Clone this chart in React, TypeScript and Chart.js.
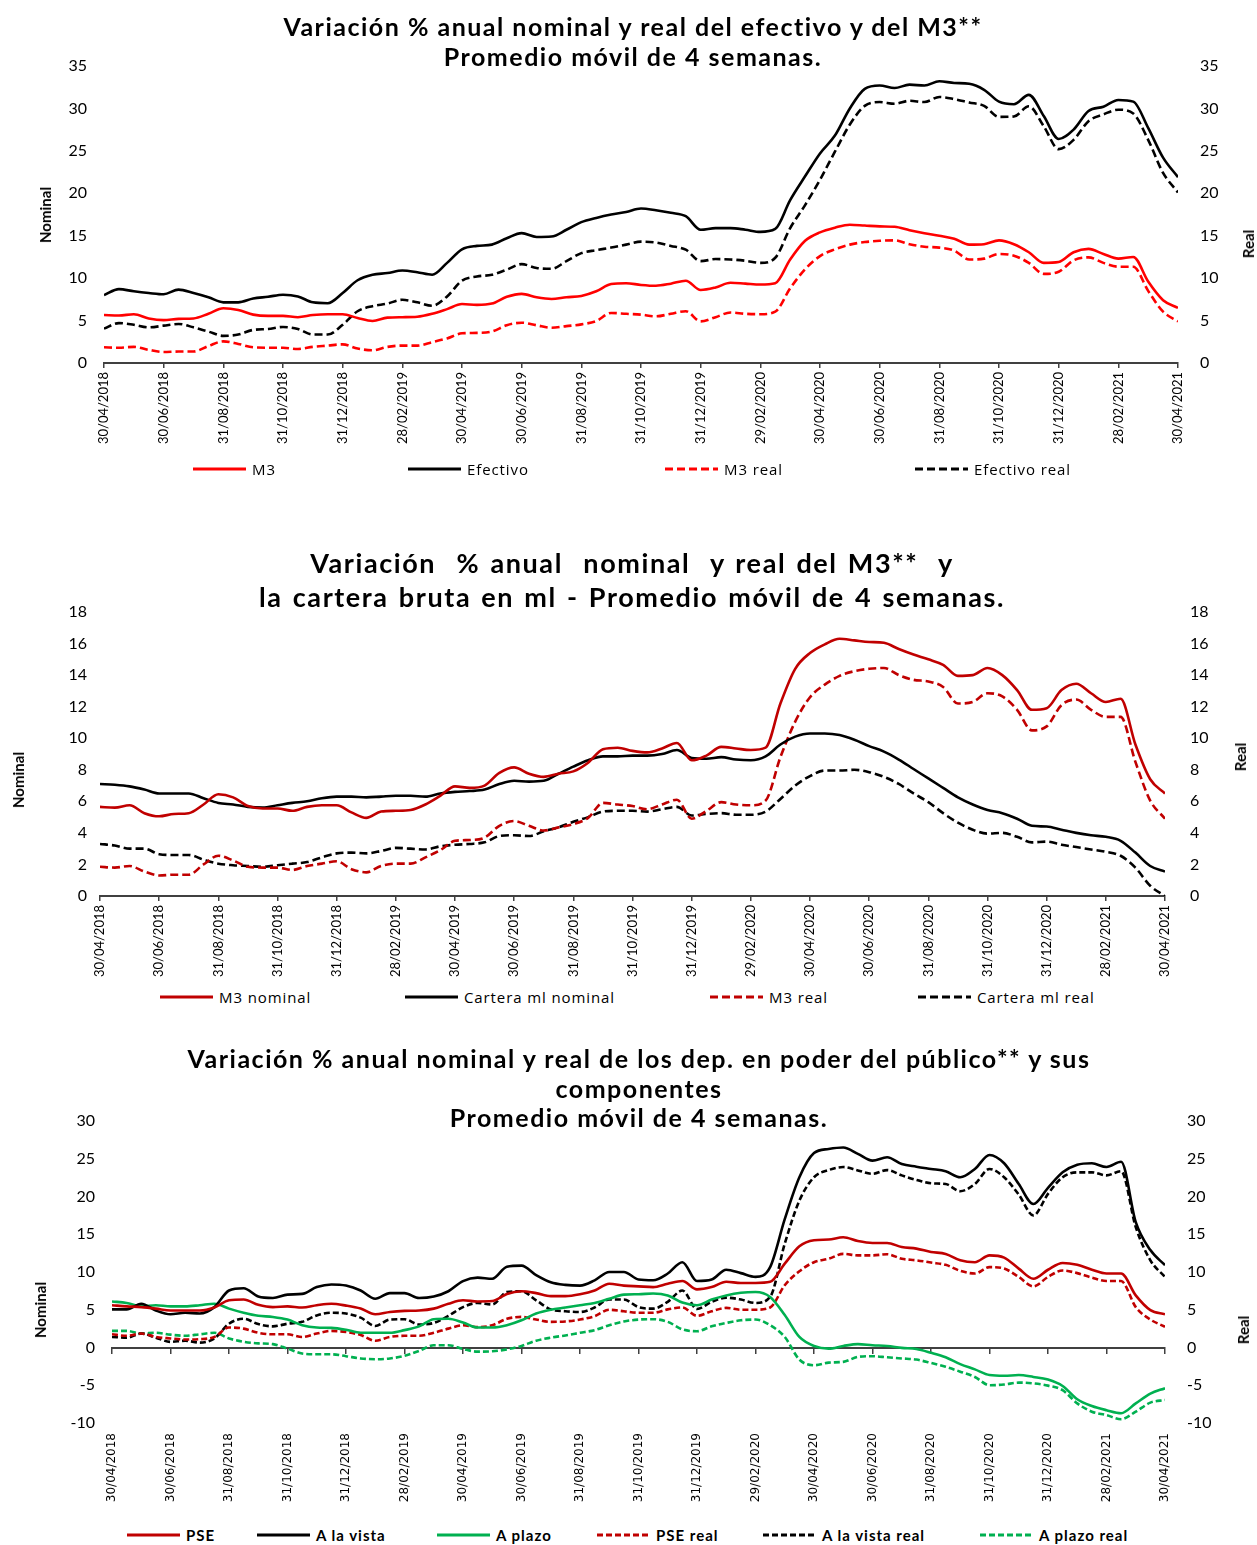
import React, { useEffect, useRef } from "react";
import { Chart, registerables } from "chart.js";

Chart.register(...registerables);
Chart.defaults.font.family = "Lato";

// ---------- data (semi-monthly points, 30/04/2018 .. 30/04/2021) ----------
const xTickLabels = [
  "30/04/2018", "30/06/2018", "31/08/2018", "31/10/2018", "31/12/2018",
  "28/02/2019", "30/04/2019", "30/06/2019", "31/08/2019", "31/10/2019",
  "31/12/2019", "29/02/2020", "30/04/2020", "30/06/2020", "31/08/2020",
  "31/10/2020", "31/12/2020", "28/02/2021", "30/04/2021",
];

const m3 = [
  5.65, 5.6, 5.75, 5.25, 5.05, 5.2, 5.25, 5.8, 6.45, 6.25,
  5.7, 5.55, 5.55, 5.4, 5.65, 5.75, 5.75, 5.3, 4.95, 5.35,
  5.4, 5.45, 5.8, 6.35, 6.95, 6.85, 7.0, 7.8, 8.15, 7.75,
  7.55, 7.75, 7.9, 8.45, 9.3, 9.4, 9.2, 9.1, 9.35, 9.7,
  8.6, 8.9, 9.45, 9.35, 9.25, 9.4, 12.2, 14.4, 15.4, 15.95,
  16.3, 16.2, 16.1, 16.05, 15.65, 15.3, 15.0, 14.65, 13.95, 14.0,
  14.45, 14.0, 13.05, 11.8, 11.9, 13.05, 13.45, 12.85, 12.3, 12.5,
  9.6, 7.4, 6.5,
];

const m3Real = [
  1.85, 1.8, 1.9, 1.55, 1.3, 1.35, 1.35, 2.0, 2.55, 2.25,
  1.85, 1.8, 1.8, 1.65, 1.9, 2.05, 2.2, 1.7, 1.5, 1.9,
  2.05, 2.05, 2.45, 2.9, 3.5, 3.55, 3.7, 4.45, 4.75, 4.45,
  4.15, 4.35, 4.55, 4.95, 5.9, 5.8, 5.7, 5.5, 5.8, 6.1,
  4.9, 5.4, 5.95, 5.8, 5.75, 6.05, 8.8, 11.05, 12.6, 13.4,
  13.95, 14.25, 14.4, 14.45, 14.0, 13.7, 13.6, 13.25, 12.2, 12.3,
  12.85, 12.65, 11.8, 10.5, 10.75, 12.1, 12.45, 11.8, 11.35, 11.35,
  8.5, 6.05, 4.9,
];

const efectivo = [
  8.0, 8.7, 8.45, 8.25, 8.1, 8.65, 8.25, 7.75, 7.15, 7.15,
  7.6, 7.8, 8.05, 7.85, 7.15, 7.05, 8.25, 9.75, 10.4, 10.6,
  10.9, 10.7, 10.4, 11.8, 13.4, 13.8, 13.95, 14.7, 15.3, 14.85,
  14.9, 15.7, 16.6, 17.1, 17.5, 17.8, 18.2, 18.0, 17.7, 17.3,
  15.7, 15.9, 15.9, 15.7, 15.45, 15.8, 19.2, 22.0, 24.7, 26.8,
  30.0, 32.3, 32.7, 32.4, 32.8, 32.7, 33.2, 33.0, 32.9, 32.2,
  30.8, 30.5, 31.6, 29.1, 26.4, 27.5, 29.7, 30.2, 31.0, 30.8,
  27.7, 24.2, 21.9,
];

const efectivoReal = [
  4.05, 4.7, 4.5, 4.2, 4.4, 4.6, 4.2, 3.7, 3.2, 3.35,
  3.9, 4.0, 4.25, 4.0, 3.35, 3.35, 4.5, 6.1, 6.7, 7.0,
  7.45, 7.15, 6.75, 7.85, 9.7, 10.2, 10.4, 11.0, 11.65, 11.2,
  11.1, 12.0, 12.95, 13.3, 13.6, 13.95, 14.3, 14.2, 13.8, 13.35,
  12.0, 12.25, 12.2, 12.05, 11.8, 12.4, 15.9, 18.6, 21.6, 24.9,
  28.1, 30.3, 30.75, 30.55, 30.9, 30.75, 31.35, 31.1, 30.7, 30.3,
  29.0, 29.05, 30.25, 27.9, 25.2, 26.3, 28.5, 29.3, 29.85, 29.4,
  26.3, 22.4, 20.1,
];

const carteraNominal = [
  7.1, 7.05, 6.95, 6.75, 6.5, 6.5, 6.5, 6.2, 5.9, 5.8,
  5.65, 5.6, 5.75, 5.9, 6.0, 6.2, 6.3, 6.3, 6.25, 6.3,
  6.35, 6.35, 6.3, 6.5, 6.6, 6.65, 6.75, 7.1, 7.3, 7.25,
  7.3, 7.75, 8.2, 8.6, 8.85, 8.85, 8.9, 8.9, 9.0, 9.25,
  8.75, 8.7, 8.8, 8.65, 8.6, 8.85, 9.6, 10.1, 10.3, 10.3,
  10.2, 9.9, 9.5, 9.15, 8.65, 8.05, 7.45, 6.85, 6.25, 5.8,
  5.45, 5.25, 4.9, 4.45, 4.4, 4.2, 4.0, 3.85, 3.75, 3.5,
  2.75, 1.9, 1.55,
];

const carteraReal = [
  3.3, 3.2, 3.0, 3.0, 2.65, 2.6, 2.6, 2.3, 2.05, 1.95,
  1.9, 1.85, 1.95, 2.05, 2.15, 2.45, 2.7, 2.75, 2.7, 2.85,
  3.05, 3.0, 2.95, 3.15, 3.25, 3.3, 3.4, 3.8, 3.85, 3.8,
  4.1, 4.35, 4.7, 5.0, 5.35, 5.4, 5.4, 5.35, 5.5, 5.65,
  5.1, 5.2, 5.25, 5.15, 5.15, 5.35, 6.15, 7.0, 7.6, 7.95,
  7.95, 8.0, 7.85, 7.55, 7.1, 6.5, 5.95, 5.25, 4.65, 4.2,
  3.95, 4.0, 3.75, 3.4, 3.45, 3.25, 3.1, 2.95, 2.8, 2.55,
  1.8, 0.65, 0.0,
];

const pse = [
  5.6, 5.45, 5.35, 5.15, 4.9, 4.9, 4.9, 5.3, 6.25, 6.35,
  5.65, 5.35, 5.45, 5.3, 5.6, 5.8, 5.55, 5.15, 4.4, 4.7,
  4.85, 4.9, 5.15, 5.8, 6.25, 6.1, 6.15, 7.1, 7.45, 7.2,
  6.8, 6.8, 7.05, 7.55, 8.45, 8.2, 8.1, 8.0, 8.45, 8.8,
  7.7, 8.0, 8.7, 8.55, 8.55, 8.7, 11.1, 13.4, 14.2, 14.3,
  14.6, 14.1, 13.85, 13.85, 13.3, 13.1, 12.65, 12.4, 11.55, 11.3,
  12.2, 11.9, 10.45, 9.1, 10.3, 11.2, 10.95, 10.3, 9.8, 9.8,
  6.9, 4.95, 4.4,
];

const pseReal = [
  1.75, 1.55, 1.85, 1.4, 1.2, 1.05, 1.1, 1.4, 2.65, 2.5,
  1.95, 1.75, 1.75, 1.4, 1.85, 2.2, 2.05, 1.65, 0.9, 1.4,
  1.55, 1.55, 1.95, 2.5, 2.95, 2.7, 2.95, 3.8, 4.05, 3.7,
  3.4, 3.45, 3.7, 4.15, 5.0, 4.8, 4.6, 4.6, 5.05, 5.3,
  4.2, 4.8, 5.25, 5.0, 5.0, 5.3, 8.25, 10.1, 11.3, 11.75,
  12.4, 12.2, 12.2, 12.35, 11.75, 11.55, 11.25, 10.95, 10.15, 9.8,
  10.65, 10.45, 9.35, 8.1, 9.35, 10.2, 9.85, 9.25, 8.8, 8.8,
  5.35, 3.7, 2.75,
];

const aLaVista = [
  5.05, 5.05, 5.8, 4.9, 4.4, 4.6, 4.5, 5.35, 7.55, 7.85,
  6.75, 6.55, 7.0, 7.1, 8.0, 8.35, 8.2, 7.55, 6.45, 7.2,
  7.2, 6.55, 6.75, 7.45, 8.8, 9.25, 9.1, 10.7, 10.85, 9.6,
  8.65, 8.3, 8.2, 8.9, 10.0, 10.0, 9.0, 8.9, 9.8, 11.3,
  8.8, 9.0, 10.3, 9.85, 9.35, 10.65, 17.0, 22.55, 25.75, 26.3,
  26.5, 25.65, 24.75, 25.2, 24.3, 23.95, 23.65, 23.35, 22.55, 23.65,
  25.5, 24.4, 21.65, 19.0, 21.15, 23.2, 24.2, 24.4, 23.9, 24.6,
  16.6, 12.9, 10.9,
];

const aLaVistaReal = [
  1.4, 1.3, 1.85, 1.3, 0.75, 0.9, 0.65, 1.2, 3.15, 3.8,
  3.1, 2.8, 3.15, 3.4, 4.25, 4.6, 4.5, 3.95, 2.85, 3.7,
  3.75, 3.05, 3.25, 4.2, 5.35, 5.9, 5.7, 7.35, 7.45, 6.25,
  5.05, 4.8, 4.7, 5.3, 6.35, 6.35, 5.35, 5.15, 6.05, 7.55,
  5.1, 6.05, 6.6, 6.35, 5.9, 6.7, 13.75, 19.45, 22.55, 23.5,
  23.9, 23.45, 23.0, 23.5, 22.8, 22.2, 21.75, 21.65, 20.7, 21.65,
  23.65, 22.55, 20.25, 17.5, 20.35, 22.55, 23.2, 23.2, 22.8, 23.35,
  15.95, 11.55, 9.35,
];

const aPlazo = [
  6.1, 5.9, 5.45, 5.6, 5.45, 5.45, 5.6, 5.8, 5.15, 4.6,
  4.2, 4.05, 3.7, 2.95, 2.65, 2.6, 2.35, 1.95, 1.95, 1.95,
  2.3, 2.8, 3.75, 3.8, 3.3, 2.65, 2.65, 2.95, 3.6, 4.5,
  5.0, 5.3, 5.6, 5.9, 6.45, 7.0, 7.05, 7.15, 6.9, 5.95,
  5.6, 6.35, 6.9, 7.25, 7.35, 6.7, 4.3, 1.4, 0.2, -0.15,
  0.2, 0.45, 0.3, 0.2, -0.05, -0.2, -0.7, -1.3, -2.2, -2.9,
  -3.65, -3.75, -3.65, -3.9, -4.25, -5.1, -6.85, -7.75, -8.3, -8.7,
  -7.4, -6.1, -5.4,
];

const aPlazoReal = [
  2.2, 2.2, 1.85, 1.95, 1.7, 1.55, 1.75, 1.95, 1.2, 0.75,
  0.55, 0.45, -0.15, -0.8, -0.9, -0.9, -1.15, -1.45, -1.55, -1.45,
  -1.1, -0.45, 0.3, 0.3, -0.2, -0.55, -0.5, -0.25, 0.2, 0.9,
  1.3, 1.6, 1.95, 2.3, 2.95, 3.45, 3.7, 3.75, 3.4, 2.4,
  2.15, 2.8, 3.25, 3.6, 3.7, 2.95, 1.4, -1.6, -2.35, -2.0,
  -1.9, -1.25, -1.15, -1.3, -1.45, -1.6, -2.05, -2.55, -3.2, -3.9,
  -5.0, -4.9, -4.65, -4.75, -5.05, -5.65, -7.4, -8.5, -8.95, -9.5,
  -8.5, -7.3, -6.95,
];

// ---------- styles ----------
const PAGE_W = 1257;
const RED = "#FF0000";
const DARK_RED = "#C00000";
const BLACK = "#000000";
const GREEN = "#00B050";
const AXIS = "#404040";

type Series = { label: string; values: number[]; color: string; dashed: boolean };

type Panel = {
  top: number;
  height: number;
  area: { left: number; right: number; top: number; bottom: number };
  y: { min: number; max: number; step: number };
  zeroAxis: boolean;
  series: Series[];
  dash: number[];
  lineWidth: number;
  xFont: { family: string; size: number };
  xPad: number;
  yFont: { family: string; size: number };
  yPadLeft: number;
  yPadRight: number;
  title: { lines: string[]; ys: number[]; cx: number; size: number; wordSpacing: number; letterSpacing: number };
  nominalPos: [number, number];
  realPos: [number, number];
  legend: { cy: number; xs: number[]; size: number; bold: boolean; letterSpacing: number; family: string };
};

const panel1: Panel = {
  top: 0,
  height: 460,
  area: { left: 104, right: 1178, top: 66, bottom: 363 },
  y: { min: 0, max: 35, step: 5 },
  zeroAxis: false,
  series: [
    { label: "M3", values: m3, color: RED, dashed: false },
    { label: "Efectivo", values: efectivo, color: BLACK, dashed: false },
    { label: "M3 real", values: m3Real, color: RED, dashed: true },
    { label: "Efectivo real", values: efectivoReal, color: BLACK, dashed: true },
  ],
  dash: [8, 4],
  lineWidth: 2.6,
  xFont: { family: "Lato", size: 13 },
  xPad: 4,
  yFont: { family: "Lato", size: 16 },
  yPadLeft: 17,
  yPadRight: 22,
  title: {
    lines: ["Variación % anual nominal y real del efectivo y del M3**", "Promedio móvil de 4 semanas."],
    ys: [26, 56],
    cx: 633,
    size: 25,
    wordSpacing: 0,
    letterSpacing: 1.5,
  },
  nominalPos: [45, 215],
  realPos: [1248, 244],
  legend: { cy: 469, xs: [193, 408, 665, 915], size: 15, bold: false, letterSpacing: 0.9, family: "Open Sans" },
};

const panel2: Panel = {
  top: 540,
  height: 445,
  area: { left: 100, right: 1165, top: 612, bottom: 896 },
  y: { min: 0, max: 18, step: 2 },
  zeroAxis: false,
  series: [
    { label: "M3 nominal", values: m3, color: DARK_RED, dashed: false },
    { label: "Cartera ml nominal", values: carteraNominal, color: BLACK, dashed: false },
    { label: "M3 real", values: m3Real, color: DARK_RED, dashed: true },
    { label: "Cartera ml real", values: carteraReal, color: BLACK, dashed: true },
  ],
  dash: [8, 4],
  lineWidth: 2.6,
  xFont: { family: "Lato", size: 13 },
  xPad: 4,
  yFont: { family: "Lato", size: 16 },
  yPadLeft: 13,
  yPadRight: 25,
  title: {
    lines: ["Variación  % anual  nominal  y real del M3**  y", "la cartera bruta en ml - Promedio móvil de 4 semanas."],
    ys: [563, 597],
    cx: 632,
    size: 27,
    wordSpacing: 2,
    letterSpacing: 1.6,
  },
  nominalPos: [18, 780],
  realPos: [1240, 757],
  legend: { cy: 997, xs: [160, 405, 710, 918], size: 15, bold: false, letterSpacing: 0.9, family: "Open Sans" },
};

const panel3: Panel = {
  top: 1040,
  height: 470,
  area: { left: 112, right: 1165, top: 1121, bottom: 1423 },
  y: { min: -10, max: 30, step: 5 },
  zeroAxis: true,
  series: [
    { label: "PSE", values: pse, color: DARK_RED, dashed: false },
    { label: "A la vista", values: aLaVista, color: BLACK, dashed: false },
    { label: "A plazo", values: aPlazo, color: GREEN, dashed: false },
    { label: "PSE real", values: pseReal, color: DARK_RED, dashed: true },
    { label: "A la vista real", values: aLaVistaReal, color: BLACK, dashed: true },
    { label: "A plazo real", values: aPlazoReal, color: GREEN, dashed: true },
  ],
  dash: [6, 3],
  lineWidth: 2.6,
  xFont: { family: "DejaVu Sans", size: 12 },
  xPad: 10,
  yFont: { family: "Lato", size: 16 },
  yPadLeft: 17,
  yPadRight: 22,
  title: {
    lines: [
      "Variación % anual nominal y real de los dep. en poder del público** y sus",
      "componentes",
      "Promedio móvil de 4 semanas.",
    ],
    ys: [1058, 1088, 1117],
    cx: 639,
    size: 25,
    wordSpacing: 0,
    letterSpacing: 1.5,
  },
  nominalPos: [40, 1310],
  realPos: [1243, 1330],
  legend: { cy: 1535, xs: [127, 257, 437, 597, 763, 980], size: 15, bold: true, letterSpacing: 1, family: "Lato" },
};

const panels = [panel1, panel2, panel3];

function xTicks(s: any) {
  s.ticks = xTickLabels.map((_, k) => ({ value: k * 4 }));
}

function buildConfig(p: Panel): any {
  const scales: any = {
    x: {
      type: "linear",
      axis: "x",
      position: "bottom",
      min: 0,
      max: 72,
      afterBuildTicks: xTicks,
      afterFit: (s: any) => {
        s.height = p.top + p.height - p.area.bottom;
      },
      ticks: {
        autoSkip: false,
        minRotation: 90,
        maxRotation: 90,
        padding: p.xPad,
        color: "#000",
        font: p.xFont,
        callback: (v: number) => xTickLabels[Math.round(v / 4)] ?? "",
      },
      grid: p.zeroAxis
        ? { display: false, drawTicks: false }
        : { display: true, drawOnChartArea: false, drawTicks: true, tickLength: 5, color: AXIS, lineWidth: 1.5 },
      border: { display: !p.zeroAxis, color: AXIS, width: 2 },
    },
    y: {
      type: "linear",
      position: "left",
      min: p.y.min,
      max: p.y.max,
      afterFit: (s: any) => {
        s.width = p.area.left;
      },
      ticks: { stepSize: p.y.step, padding: p.yPadLeft, color: "#000", font: p.yFont },
      grid: { display: false, drawTicks: false },
      border: { display: false },
    },
    y1: {
      type: "linear",
      position: "right",
      min: p.y.min,
      max: p.y.max,
      afterFit: (s: any) => {
        s.width = PAGE_W - p.area.right;
      },
      ticks: { stepSize: p.y.step, padding: p.yPadRight, color: "#000", font: p.yFont },
      grid: { display: false, drawTicks: false },
      border: { display: false },
    },
  };
  if (p.zeroAxis) {
    scales.x0 = {
      type: "linear",
      axis: "x",
      position: { y: 0 },
      min: 0,
      max: 72,
      afterBuildTicks: xTicks,
      afterFit: (s: any) => {
        s.height = 0;
      },
      ticks: { display: false },
      grid: { display: true, drawOnChartArea: false, drawTicks: true, tickLength: 5, color: AXIS, lineWidth: 1.5 },
      border: { display: true, color: AXIS, width: 2 },
    };
  }
  return {
    type: "line",
    data: {
      datasets: p.series.map((s) => ({
        label: s.label,
        data: s.values.map((v, i) => ({ x: i, y: v })),
        borderColor: s.color,
        backgroundColor: s.color,
        borderWidth: p.lineWidth,
        borderDash: s.dashed ? p.dash : [],
        pointRadius: 0,
        cubicInterpolationMode: "monotone",
        fill: false,
        xAxisID: "x",
        yAxisID: "y",
      })),
    },
    options: {
      animation: false,
      responsive: false,
      maintainAspectRatio: false,
      devicePixelRatio: 1,
      layout: { padding: { top: p.area.top - p.top, left: 0, right: 0, bottom: 0 } },
      scales,
      plugins: {
        legend: { display: false },
        title: { display: false },
        tooltip: { enabled: false },
      },
    },
  };
}

function PanelView({ p }: { p: Panel }) {
  const ref = useRef<HTMLCanvasElement | null>(null);
  useEffect(() => {
    if (!ref.current) return;
    const chart = new Chart(ref.current, buildConfig(p));
    return () => chart.destroy();
  }, [p]);

  const axisTitle = (text: string, pos: [number, number]) => (
    <div
      style={{
        position: "absolute",
        left: pos[0],
        top: pos[1],
        transform: "translate(-50%, -50%) rotate(-90deg)",
        fontFamily: "Lato",
        fontWeight: 700,
        fontSize: 15,
        whiteSpace: "nowrap",
        color: "#000",
      }}
    >
      {text}
    </div>
  );

  return (
    <>
      <canvas
        ref={ref}
        width={PAGE_W}
        height={p.height}
        style={{ position: "absolute", left: 0, top: p.top, width: PAGE_W, height: p.height, display: "block" }}
      />
      {p.title.lines.map((t, i) => (
        <div
          key={"t" + i}
          style={{
            position: "absolute",
            left: p.title.cx - 600,
            width: 1200,
            top: p.title.ys[i] - 18,
            height: 36,
            lineHeight: "36px",
            textAlign: "center",
            fontFamily: "Lato",
            fontWeight: 700,
            fontSize: p.title.size,
            whiteSpace: "pre",
            wordSpacing: p.title.wordSpacing,
            letterSpacing: p.title.letterSpacing,
            color: "#000",
          }}
        >
          {t}
        </div>
      ))}
      {axisTitle("Nominal", p.nominalPos)}
      {axisTitle("Real", p.realPos)}
      {p.series.map((s, i) => (
        <div
          key={"l" + i}
          style={{
            position: "absolute",
            left: p.legend.xs[i],
            top: p.legend.cy - 12,
            height: 24,
            display: "flex",
            alignItems: "center",
            whiteSpace: "nowrap",
            fontFamily: p.legend.family,
            fontWeight: p.legend.bold ? 700 : 400,
            fontSize: p.legend.size,
            letterSpacing: p.legend.letterSpacing,
            color: "#000",
          }}
        >
          <svg width={53} height={6} style={{ display: "block" }}>
            <line
              x1={0}
              y1={3}
              x2={53}
              y2={3}
              stroke={s.color}
              strokeWidth={3}
              strokeDasharray={s.dashed ? p.dash.join(" ") : undefined}
            />
          </svg>
          <span style={{ marginLeft: 6 }}>{s.label}</span>
        </div>
      ))}
    </>
  );
}

export default function App() {
  return (
    <div style={{ position: "absolute", left: 0, top: 0, width: PAGE_W, height: 1545, background: "#fff", overflow: "hidden" }}>
      {panels.map((p, i) => (
        <PanelView key={i} p={p} />
      ))}
    </div>
  );
}
